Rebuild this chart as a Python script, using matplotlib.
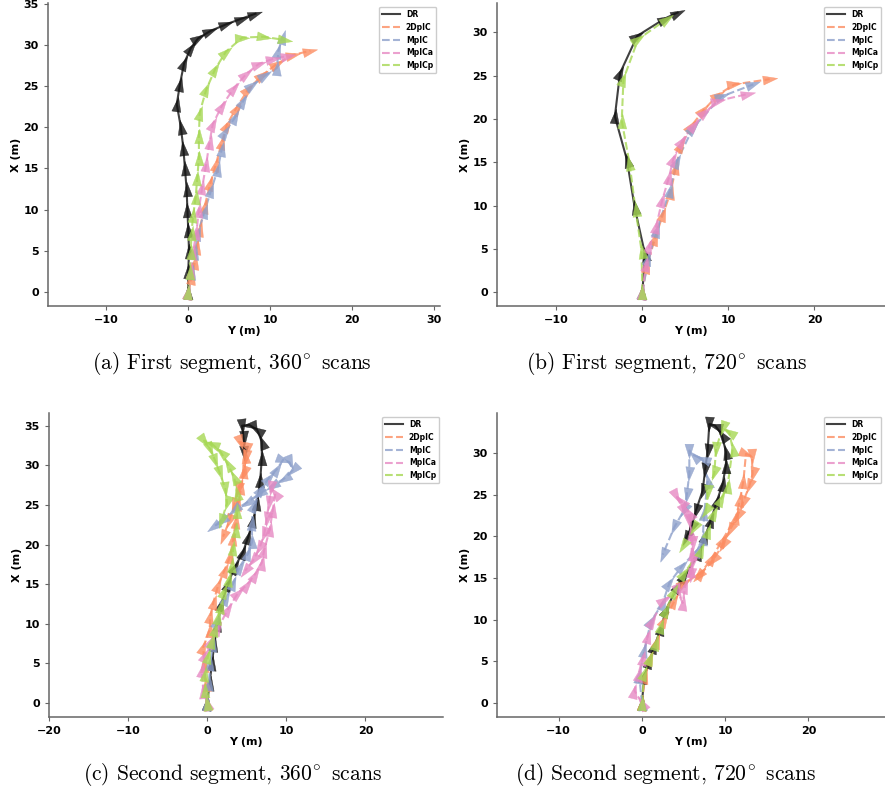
import numpy as np
import matplotlib
matplotlib.use("Agg")
import matplotlib.pyplot as plt
from matplotlib.markers import MarkerStyle
from matplotlib.path import Path
from matplotlib.transforms import Affine2D

plt.rcParams["mathtext.fontset"] = "cm"

# trajectories as (Y, X) pairs in metres
METHODS = ["DR", "2DpIC", "MpIC", "MpICa", "MpICp"]
COLORS = {"DR": "#111111", "2DpIC": "#fc8d62", "MpIC": "#8da0cb",
          "MpICa": "#e78ac3", "MpICp": "#a6d854"}

# (a) first segment, 360 deg scans
A_DR = [(0, 0), (0, 2.5), (0.1, 5), (0, 7.5), (-0.1, 10), (-0.2, 12.5), (-0.4, 15),
        (-0.6, 17.5), (-0.9, 20), (-1.4, 22.8), (-1.0, 25.3), (-0.5, 27.8), (0.3, 29.6),
        (1.2, 30.8), (2.7, 31.7), (4.6, 32.5), (6.5, 33.2), (8.2, 33.8)]
A_2DPIC = [(0, 0), (0.4, 1.8), (0.8, 3.6), (1.1, 5.5), (1.4, 7.6), (2.0, 10.4), (2.7, 13.2),
           (3.4, 15.6), (4.1, 18.2), (4.7, 20.3), (5.9, 22.4), (7.3, 24.6), (9.0, 26.3),
           (10.8, 27.7), (12.8, 28.8), (14.9, 29.3)]
A_MPIC = [(0, 0), (0.4, 2.4), (0.8, 4.8), (1.2, 7.2), (2.0, 9.8), (2.8, 12.4), (3.6, 14.9),
          (4.1, 17.4), (4.5, 19.4), (5.7, 21.2), (6.7, 23.2), (7.8, 25.1), (9.4, 26.3),
          (10.8, 27.2), (11.0, 29.3), (11.5, 31.0)]
A_MPICA = [(0, 0), (0.3, 2.6), (0.6, 4.9), (1.0, 7.3), (1.3, 10), (1.7, 12.7), (2.2, 15.6),
           (2.6, 18.2), (3.0, 20.4), (4.1, 22.6), (5.6, 24.8), (7.1, 26.5), (8.6, 27.7),
           (10.3, 28.3), (12.2, 28.7)]
A_MPICP = [(0, 0), (0.2, 2.4), (0.3, 4.8), (0.4, 7.2), (0.6, 9.3), (0.9, 11.5), (1.1, 13.8),
           (1.3, 16.3), (1.3, 19), (1.4, 21.8), (2.2, 24.6), (3.3, 27.1), (4.6, 29.2),
           (6.6, 30.9), (9.2, 31.0), (11.8, 30.6)]

# (b) first segment, 720 deg scans
B_DR = [(0, 0), (0.3, 4.4), (-0.9, 9.8), (-1.8, 15.3), (-3.2, 20.3), (-2.6, 25.3),
        (-0.6, 29.6), (2.6, 31.6), (4.1, 32.3)]
B_2DPIC = [(0, 0), (0.5, 3.0), (1.5, 6.3), (2.4, 9.0), (3.3, 11.6), (3.9, 14.5), (4.5, 17.0),
           (5.7, 19.2), (7.1, 21.0), (8.8, 22.8), (10.7, 24.0), (14.8, 24.6)]
B_MPIC = [(0, 0), (0.7, 3.9), (1.7, 7.2), (3.2, 11.8), (4.0, 15.1), (5.9, 19.0),
          (9.2, 22.6), (12.9, 24.0)]
B_MPICA = [(0, 0), (0.4, 3.2), (0.8, 5.3), (1.6, 7.6), (2.3, 10.6), (3.1, 13.3), (3.6, 15.4),
           (4.6, 17.5), (6.0, 19.3), (7.3, 20.8), (8.8, 22.1), (12.3, 22.9)]
B_MPICP = [(0, 0), (-0.1, 4.8), (-0.8, 9.6), (-1.5, 14.9), (-2.4, 19.8), (-2.2, 24.6),
           (-0.5, 29.2), (2.9, 31.6)]

# (c) second segment, 360 deg scans
C_DR = [(0, 0), (0.3, 2.5), (0.6, 5), (0.9, 7.5), (1.3, 10), (1.8, 12.5), (2.6, 15),
        (3.5, 17.2), (4.5, 19), (5.2, 21), (5.8, 23.1), (6.3, 25.2), (6.7, 28.2), (6.9, 30.9),
        (6.9, 33), (6.3, 34.5), (5.3, 35.1), (4.4, 35.0), (4.6, 33.4), (4.7, 31.5)]
C_2DPIC = [(0, 0), (-0.2, 2.4), (-0.4, 4.8), (-0.5, 7.1), (0.3, 9.2), (0.4, 11.0),
           (0.8, 12.8), (1.4, 14.9), (2.2, 16.8), (2.9, 18.5), (3.3, 20.8), (3.6, 23.0),
           (3.9, 25.2), (4.3, 27.2), (4.6, 29.3), (4.8, 31.2), (4.6, 32.7), (4.2, 32.9),
           (4.9, 31.0), (4.6, 29.0), (3.9, 27.0), (3.4, 25.0), (2.8, 23.0), (2.0, 21.0)]
C_MPIC = [(0, 0), (0.2, 2.5), (0.4, 5.0), (0.7, 7.5), (1.2, 10.4), (2.4, 13.3), (3.3, 15.1),
          (4.1, 17.2), (5.2, 18.9), (5.7, 20.4), (5.6, 22.7), (5.9, 25.0), (6.8, 27.0),
          (7.8, 28.4), (8.8, 29.5), (9.6, 30.7), (10.4, 30.4), (10.8, 29.4), (9.7, 28.3),
          (8.2, 27.4), (6.6, 26.4), (5.0, 25.3), (3.4, 24.3), (1.8, 23.0), (0.7, 22.2)]
C_MPICA = [(0, 0), (-0.5, 1.5), (-0.7, 4.2), (-0.3, 6.1), (0.5, 7.8), (1.4, 9.5),
           (2.6, 11.8), (3.9, 13.9), (5.0, 14.9), (6.0, 16.2), (6.9, 17.7), (7.2, 19.3),
           (7.9, 21.9), (8.3, 24.4), (8.6, 26.5), (8.1, 27.1), (7.8, 25.2), (7.5, 23.2),
           (7.2, 21.3), (6.6, 19.5), (5.8, 18.0), (4.8, 16.7)]
C_MPICP = [(0, 0), (-0.3, 1.7), (-0.3, 3.6), (0.1, 5.9), (0.6, 7.8), (1.0, 9.3), (1.4, 10.8),
           (1.7, 12.3), (2.1, 14.1), (2.7, 15.6), (3.1, 17.4), (3.3, 19.6), (3.6, 21.8),
           (3.8, 24.2), (3.8, 26.5), (3.4, 28.5), (2.6, 30.1), (1.7, 31.7), (0.6, 32.7),
           (-0.4, 33.1), (0.4, 32.0), (1.0, 30.6), (1.6, 29.0), (2.3, 27.0), (2.5, 25.2),
           (1.8, 23.0)]

# (d) second segment, 720 deg scans
D_DR = [(0, 0), (0.3, 3.2), (0.9, 5.0), (1.5, 6.8), (2.3, 9.0), (2.9, 11.2), (4.3, 14.0),
        (5.1, 15.2), (6.9, 18.0), (7.6, 20.0), (8.3, 22.0), (9.0, 24.2), (9.7, 26.3),
        (10.1, 28.5), (10.1, 30.1), (9.6, 32.2), (8.8, 33.3), (8.1, 33.5), (7.9, 30.3),
        (7.6, 28.0), (7.3, 25.5), (6.5, 23.1), (5.9, 21.0), (5.3, 19.8)]
D_2DPIC = [(0, 0), (0.4, 3.2), (1.0, 5.4), (1.8, 7.4), (2.7, 10.0), (3.9, 12.2), (5.1, 14.4),
           (7.1, 15.6), (8.4, 17.4), (9.7, 19.6), (11.3, 22.3), (11.8, 24.5), (12.2, 26.7),
           (12.5, 29.9), (13.2, 29.6), (13.3, 27.5), (12.9, 26.0), (12.1, 24.0), (11.5, 22.5),
           (10.6, 20.8), (9.7, 19.0), (8.6, 17.2), (6.8, 15.2)]
D_MPIC = [(0, 0), (-0.3, 3.2), (0.3, 6.4), (1.1, 9.8), (2.5, 12.0), (3.3, 14.4), (4.8, 16.4),
          (6.7, 18.4), (7.3, 19.8), (7.5, 22.8), (7.9, 26.7), (7.3, 29.3), (6.3, 29.7),
          (5.7, 30.3), (5.7, 27.5), (5.4, 25.0), (5.1, 23.2), (3.9, 21.1), (2.5, 17.8)]
D_MPICA = [(0, 0), (-0.9, 1.5), (-0.4, 3.5), (0.1, 5.4), (0.7, 8.0), (1.2, 9.8), (2.7, 12.4),
           (4.3, 13.4), (4.9, 12.0), (5.2, 14.0), (5.9, 16.0), (6.0, 18.0), (5.9, 20.4),
           (5.7, 22.8), (4.7, 24.3), (4.1, 24.9), (5.1, 23.0), (5.7, 21.8), (6.1, 19.2),
           (6.1, 17.0), (5.9, 15.4)]
D_MPICP = [(0, 0), (0.3, 3.6), (1.0, 5.4), (1.7, 7.2), (2.3, 9.2), (2.9, 11.2), (3.9, 13.4),
           (5.1, 15.6), (7.1, 18.4), (8.0, 20.6), (8.7, 22.8), (9.5, 24.5), (10.3, 26.1),
           (10.9, 30.5), (10.5, 32.5), (9.7, 33.0), (8.9, 30.5), (8.7, 27.6), (7.9, 25.3),
           (7.7, 23.0), (6.3, 21.0), (4.9, 18.8)]

PANELS = [
    {"data": [A_DR, A_2DPIC, A_MPIC, A_MPICA, A_MPICP], "xticks": [-10, 0, 10, 20, 30],
     "yticks": [0, 5, 10, 15, 20, 25, 30, 35], "caption": r"(a) First segment, 360$^{\!\circ}$ scans"},
    {"data": [B_DR, B_2DPIC, B_MPIC, B_MPICA, B_MPICP], "xticks": [-10, 0, 10, 20],
     "yticks": [0, 5, 10, 15, 20, 25, 30], "caption": r"(b) First segment, 720$^{\!\circ}$ scans"},
    {"data": [C_DR, C_2DPIC, C_MPIC, C_MPICA, C_MPICP], "xticks": [-20, -10, 0, 10, 20],
     "yticks": [0, 5, 10, 15, 20, 25, 30, 35], "caption": r"(c) Second segment, 360$^{\!\circ}$ scans"},
    {"data": [D_DR, D_2DPIC, D_MPIC, D_MPICA, D_MPICP], "xticks": [-10, 0, 10, 20],
     "yticks": [0, 5, 10, 15, 20, 25, 30], "caption": r"(d) Second segment, 720$^{\!\circ}$ scans"},
]

# layout (pixels in an 885x792 canvas)
W, H = 885, 792
AX_PX = [(48, 440, 3, 306), (497, 885, 3, 306), (49, 443, 413, 717), (497, 885, 413, 717)]
LIMS = [((-17.1, 30.7), (-1.7, 35.1)), ((-16.9, 28.2), (-1.6, 33.4)),
        ((-20.0, 29.8), (-1.77, 36.6)), ((-17.4, 29.2), (-1.68, 34.8))]
CAP_POS = [(232, 364), (666, 364), (232, 774), (666, 774)]

TRI = Path([(0, 1), (-0.62, -1), (0.62, -1), (0, 1)], closed=True)


def draw_traj(ax, pts, color, ls, label):
    ys = np.array([p[0] for p in pts], dtype=float)
    xs = np.array([p[1] for p in pts], dtype=float)
    ax.plot(ys, xs, color=color, ls=ls, lw=1.5, alpha=0.8, label=label, zorder=2)
    disp = ax.transData.transform(np.column_stack([ys, xs]))
    for i in range(len(ys)):
        d = disp[i + 1] - disp[i] if i < len(ys) - 1 else disp[i] - disp[i - 1]
        ang = np.degrees(np.arctan2(d[1], d[0])) - 90
        m = MarkerStyle(TRI, transform=Affine2D().rotate_deg(ang))
        ax.plot(ys[i], xs[i], marker=m, ms=10.5, color=color, mec=color, mew=0.3,
                alpha=0.8, ls="none", zorder=3)


fig = plt.figure(figsize=(W / 100, H / 100), dpi=100)

for k, panel in enumerate(PANELS):
    l, r, t, b = AX_PX[k]
    ax = fig.add_axes([l / W, 1 - b / H, (r - l) / W, (b - t) / H])
    ax.set_xlim(*LIMS[k][0])
    ax.set_ylim(*LIMS[k][1])
    for name, pts in zip(METHODS, panel["data"]):
        ls = "-" if name == "DR" else "--"
        draw_traj(ax, pts, COLORS[name], ls, name)
    ax.set_xticks(panel["xticks"])
    ax.set_yticks(panel["yticks"])
    ax.spines["top"].set_visible(False)
    ax.spines["right"].set_visible(False)
    for s in ("left", "bottom"):
        ax.spines[s].set_color("#666666")
        ax.spines[s].set_linewidth(1.1)
    ax.tick_params(colors="#666666", labelcolor="black", labelsize=8, length=3, width=0.8)
    for lab in ax.get_xticklabels() + ax.get_yticklabels():
        lab.set_fontweight("bold")
    ax.set_xlabel("Y (m)", fontsize=8, fontweight="bold", labelpad=1)
    ax.set_ylabel("X (m)", fontsize=8, fontweight="bold", labelpad=2)
    ax.legend(loc="upper right", prop={"weight": "bold", "size": 5.5},
              handlelength=2.3, edgecolor="#cccccc", framealpha=1.0)
    cx, cy = CAP_POS[k]
    fig.text(cx / W, 1 - cy / H, panel["caption"], ha="center", va="center",
             fontfamily="cmr10", fontsize=15.5)

fig.savefig("out.png", dpi=100)
